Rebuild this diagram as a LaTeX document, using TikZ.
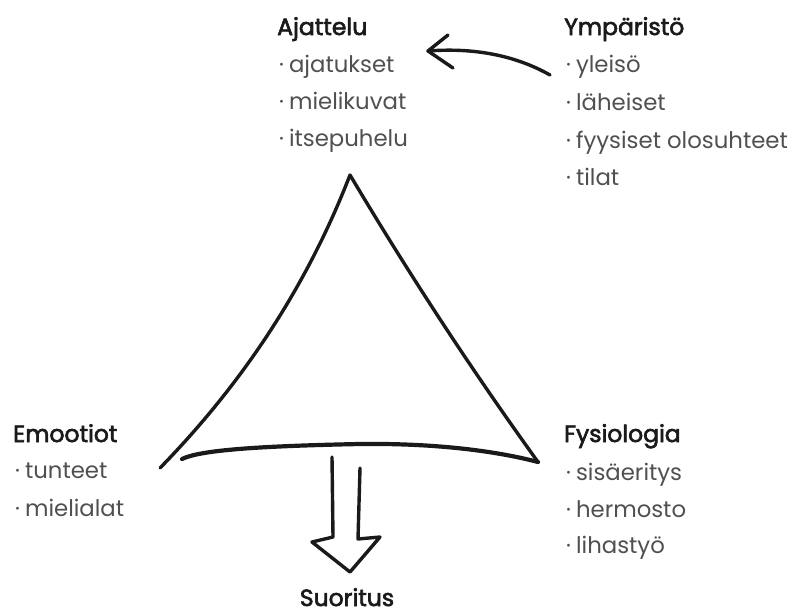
\documentclass[tikz,border=0pt]{standalone}
\usepackage{fontspec}
\setmainfont{Poppins}
\newfontfamily\ttlfont{Poppins}[FakeBold=2.6]
\definecolor{titlec}{HTML}{1A1A1A}
\definecolor{itemc}{HTML}{505050}
\definecolor{inkc}{HTML}{1A1A1A}
\newcommand{\bul}{·\hspace{5pt}}
\tikzset{
  ttl/.style={anchor=base west, inner sep=0pt, text=titlec, font=\ttlfont\fontsize{23.5}{30}\selectfont},
  itm/.style={anchor=base west, inner sep=0pt, text=itemc, font=\fontsize{22.8}{26}\selectfont},
  ink/.style={draw=inkc, line width=3.6pt, line cap=round, line join=round}
}
\begin{document}
\begin{tikzpicture}[x=1pt,y=-1pt]
\useasboundingbox (0,0) rectangle (805,614);
% Ajattelu
\node[ttl] (aj) at (277,35) {Ajattelu};
\node[itm] (aj1) at (279,72) {\bul ajatukset};
\node[itm] (aj2) at (279,109) {\bul mielikuvat};
\node[itm] (aj3) at (279,146) {\bul itsepuhelu};
% Ymparisto
\node[ttl] (ym) at (564,35) {Ympäristö};
\node[itm] (ym1) at (566,72) {\bul yleisö};
\node[itm] (ym2) at (566,110) {\bul läheiset};
\node[itm] (ym3) at (566,148) {\bul fyysiset olosuhteet};
\node[itm] (ym4) at (566,185) {\bul tilat};
% Emootiot
\node[ttl] (em) at (13,442) {Emootiot};
\node[itm] (em1) at (15,478) {\bul tunteet};
\node[itm] (em2) at (15,516) {\bul mielialat};
% Fysiologia
\node[ttl] (fy) at (564,442) {Fysiologia};
\node[itm] (fy1) at (566,480) {\bul sisäeritys};
\node[itm] (fy2) at (566,517) {\bul hermosto};
\node[itm] (fy3) at (566,553) {\bul lihastyö};
% Suoritus
\node[ttl, anchor=base] (su) at (347,606) {Suoritus};
% triangle
\coordinate (apex) at (350,175);
\coordinate (bl) at (160,468);
\coordinate (br) at (538,462);
\draw[ink, line width=3.4pt] (bl) .. controls (243,383) and (307,286) .. (apex)
  .. controls (409,274) and (471,369) .. (br);
\draw[ink, line width=4.2pt] (182,459) .. controls (200,450) and (260,446) .. (360,444)
  .. controls (440,443) and (500,452) .. (br);
% down arrow
\draw[ink, line width=3.4pt] (332,457) -- (333,537) -- (312,542) -- (350,572) -- (380,537) -- (358,539) -- (360,468);
% curved arrow
\coordinate (ca1) at (550,75);
\coordinate (ca2) at (428,51);
\draw[ink, line width=3.4pt] (ca1) .. controls (520,58) and (480,47) .. (ca2);
\draw[ink, line width=3.4pt] (448,35) -- (ca2) -- (453,68);
\end{tikzpicture}
\end{document}
